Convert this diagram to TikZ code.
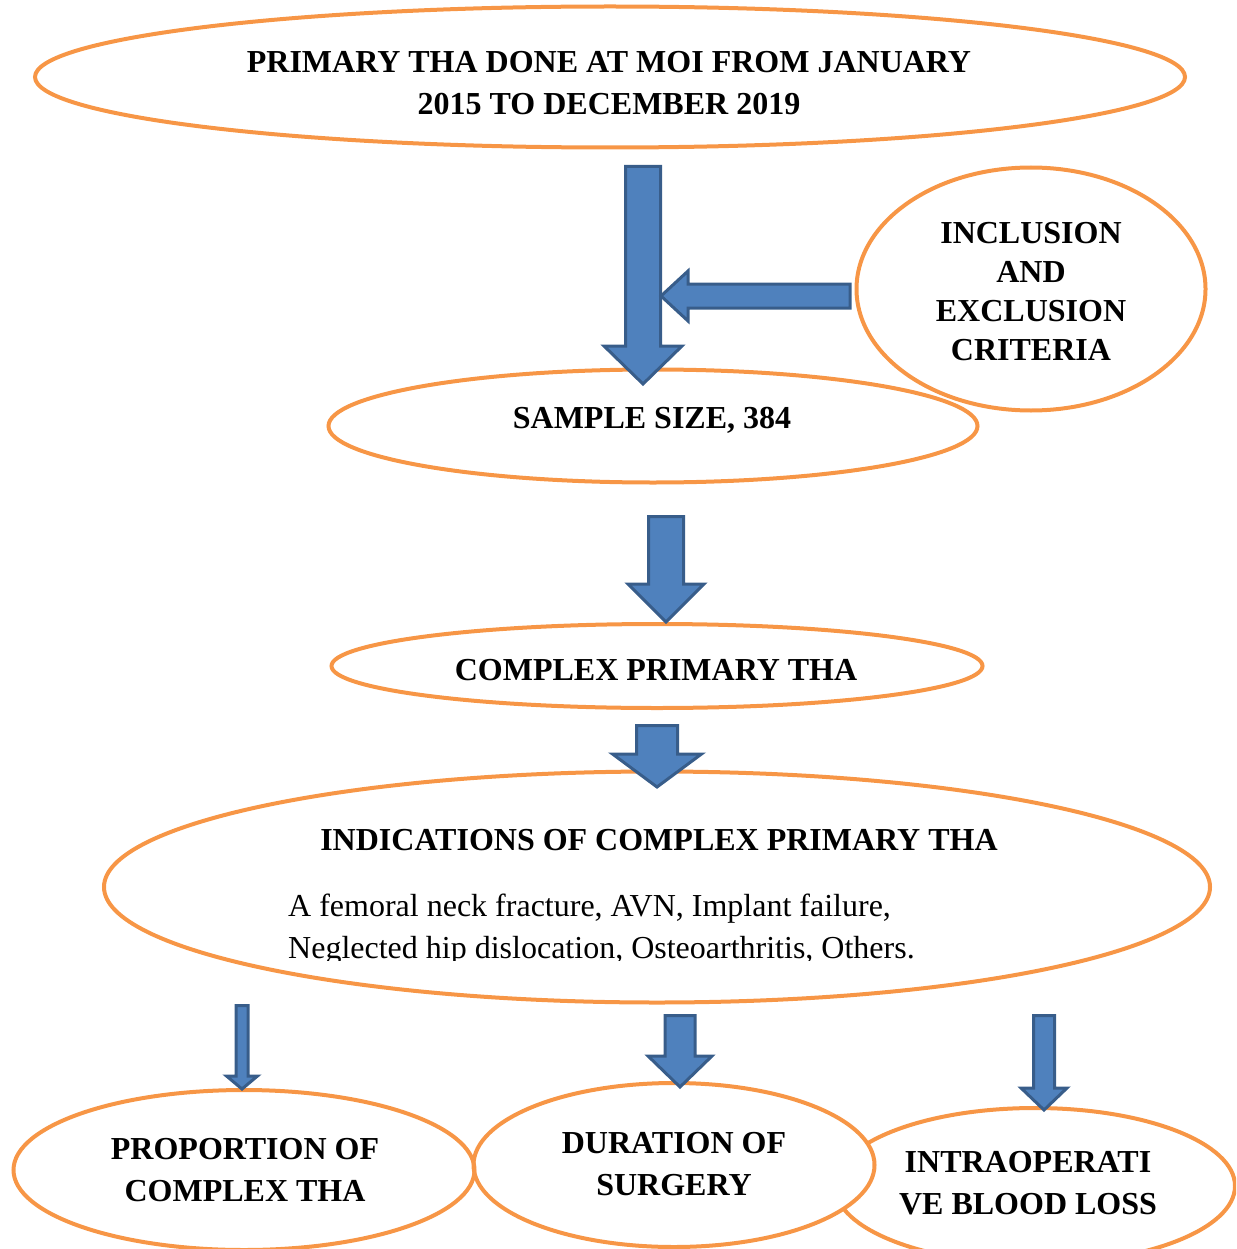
\documentclass[tikz,border=0pt]{standalone}
\usepackage{fontspec}
\setmainfont{Liberation Serif}
\usetikzlibrary{calc,shapes.geometric}
\definecolor{floworange}{RGB}{247,150,70}
\definecolor{flowblue}{RGB}{79,129,189}
\definecolor{flowborder}{RGB}{56,93,138}

\tikzset{
  oval/.style={ellipse,draw=floworange,line width=4pt,inner sep=0pt},
  blockarrow/.style={fill=flowblue,draw=flowborder,line width=3pt,line join=miter},
  caption/.style={font=\bfseries\fontsize{32}{42}\selectfont,align=center,inner sep=0pt},
  bodytext/.style={font=\fontsize{32}{42}\selectfont,align=left,inner sep=0pt},
}

% block arrow: tail, tip, shaft half width, head half width, head length
\newcommand{\flowarrow}[5]{%
  \coordinate (hb) at ($(#2)!#5!(#1)$);
  \draw[blockarrow] ($(#1)!#3!90:(#2)$) -- ($(hb)!#3!-90:(#1)$)
    -- ($(hb)!#4!-90:(#1)$) -- (#2) -- ($(hb)!#4!90:(#1)$)
    -- ($(hb)!#3!90:(#1)$) -- ($(#1)!#3!-90:(#2)$) -- cycle;}

\begin{document}
\begin{tikzpicture}[x=1pt,y=-1pt]
  \useasboundingbox (0,0) rectangle (1236,1249);
  \clip (0,0) rectangle (1236,1249);

  % ovals
  \node[oval,minimum width=1150pt,minimum height=141pt] (primary) at (610,77) {};
  \node[oval,minimum width=349pt,minimum height=243pt] (criteria) at (1031,289) {};
  \node[oval,minimum width=649pt,minimum height=113pt] (sample) at (653,426) {};
  \node[oval,minimum width=651pt,minimum height=84pt] (complex) at (657,666) {};
  \node[oval,minimum width=1106pt,minimum height=231pt] (indic) at (657,887) {};
  \node[oval,fill=white,minimum width=400pt,minimum height=156pt] (blood) at (1035,1186) {};
  \node[oval,fill=white,minimum width=401pt,minimum height=164pt] (duration) at (674,1165) {};
  \node[oval,minimum width=461pt,minimum height=160pt] (proportion) at (244,1170) {};

  % texts
  \node[caption] (tprimary) at (609,83) {PRIMARY THA DONE AT MOI FROM JANUARY\\2015 TO DECEMBER 2019};
  \node[caption,font=\bfseries\fontsize{32}{39}\selectfont] (tcriteria) at (1031,292) {INCLUSION\\AND\\EXCLUSION\\CRITERIA};
  \node[caption] (tsample) at (652,420) {SAMPLE SIZE, 384};
  \node[caption] (tcomplex) at (656,670) {COMPLEX PRIMARY THA};
  \node[caption] (tindic) at (659,840) {INDICATIONS OF COMPLEX PRIMARY THA};
  \begin{scope}
    \clip (0,0) rectangle (1236,960);
    \node[bodytext,anchor=west] (tlist) at (288,930) {A femoral neck fracture, AVN, Implant failure,\\Neglected hip dislocation, Osteoarthritis, Others.};
  \end{scope}
  \node[caption] (tproportion) at (245,1170) {PROPORTION OF\\COMPLEX THA};
  \node[caption] (tduration) at (674,1164) {DURATION OF\\SURGERY};
  \node[caption] (tblood) at (1028,1183) {INTRAOPERATI\\VE BLOOD LOSS};

  % arrows
  \coordinate (a1s) at (643,166.5);  \coordinate (a1e) at (643,384);
  \coordinate (a2s) at (850,296);    \coordinate (a2e) at (661,296);
  \coordinate (a3s) at (666,516.5);  \coordinate (a3e) at (666,622);
  \coordinate (a4s) at (657,725.5);  \coordinate (a4e) at (657,787);
  \coordinate (a5s) at (242,1005.5); \coordinate (a5e) at (242,1089);
  \coordinate (a6s) at (680,1015.5); \coordinate (a6e) at (680,1087);
  \coordinate (a7s) at (1044,1015.5);\coordinate (a7e) at (1044,1110);
  \flowarrow{a1s}{a1e}{17.5pt}{39pt}{38pt}
  \flowarrow{a2s}{a2e}{12pt}{25pt}{27pt}
  \flowarrow{a3s}{a3e}{17.5pt}{38pt}{38pt}
  \flowarrow{a4s}{a4e}{20.5pt}{44.5pt}{33pt}
  \flowarrow{a5s}{a5e}{6pt}{15.5pt}{13pt}
  \flowarrow{a6s}{a6e}{15pt}{32pt}{31pt}
  \flowarrow{a7s}{a7e}{10.5pt}{23pt}{22pt}
\end{tikzpicture}
\end{document}
